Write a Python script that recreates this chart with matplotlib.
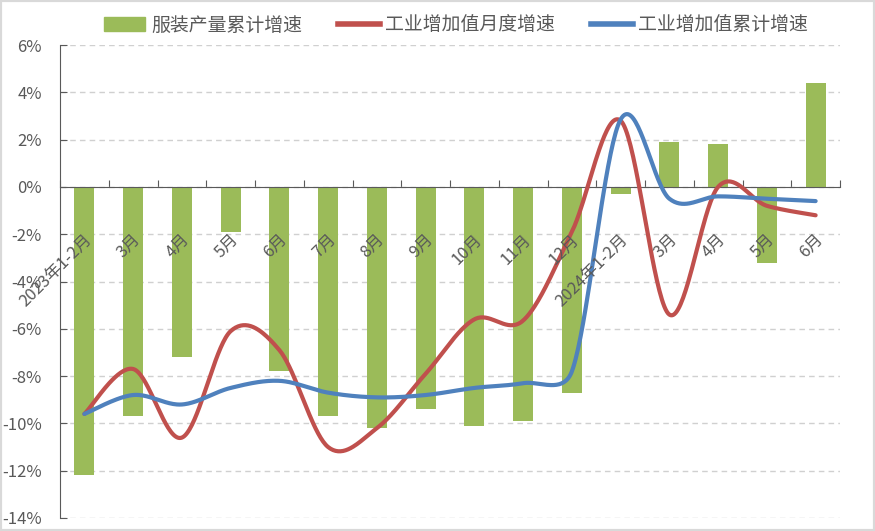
import numpy as np
import matplotlib.pyplot as plt
from matplotlib.patches import Patch, Rectangle
from matplotlib.lines import Line2D

plt.rcParams['font.family'] = ['Noto Sans CJK SC', 'DejaVu Sans']

months = ['2023年1-2月', '3月', '4月', '5月', '6月', '7月', '8月', '9月', '10月',
          '11月', '12月', '2024年1-2月', '3月', '4月', '5月', '6月']
# 服装产量累计增速 (%)
output_growth = [-12.2, -9.7, -7.2, -1.9, -7.8, -9.7, -10.2, -9.4, -10.1, -9.9,
                 -8.7, -0.3, 1.9, 1.8, -3.2, 4.4]
# 工业增加值月度增速 (%)
monthly_growth = [-9.6, -7.7, -10.6, -6.1, -6.9, -11.0, -10.2, -7.9, -5.6, -5.65,
                  -1.9, 2.8, -5.4, 0.0, -0.8, -1.2]
# 工业增加值累计增速 (%)
cum_growth = [-9.6, -8.8, -9.2, -8.5, -8.2, -8.7, -8.9, -8.8, -8.5, -8.3,
              -7.8, 2.85, -0.5, -0.4, -0.5, -0.6]

GREEN = '#9BBB59'
RED = '#C0504D'
BLUE = '#4F81BD'
GRAY = '#595959'


def smooth(xs, ys, aspect, n=40):
    # excel-like smoothed line: bezier through the points, built in screen proportions
    P = np.column_stack([xs, np.asarray(ys, float) * aspect])
    Pe = np.vstack([P[0], P, P[-1]])
    t = np.linspace(0, 1, n)[:, None]
    parts = []
    for i in range(len(P) - 1):
        p0, p1 = P[i], P[i + 1]
        seg_len = np.linalg.norm(p1 - p0)
        d1 = (Pe[i + 2] - Pe[i]) / 6
        d2 = (Pe[i + 3] - Pe[i + 1]) / 6
        # keep handles from overshooting on short segments
        for d in (d1, d2):
            L = np.linalg.norm(d)
            if L > 0.5 * seg_len:
                d *= 0.5 * seg_len / L
        c1 = p0 + d1
        c2 = p1 - d2
        seg = (1 - t) ** 3 * p0 + 3 * (1 - t) ** 2 * t * c1 + 3 * (1 - t) * t ** 2 * c2 + t ** 3 * p1
        parts.append(seg if i == 0 else seg[1:])
    c = np.vstack(parts)
    return c[:, 0], c[:, 1] / aspect


fig = plt.figure(figsize=(8.75, 5.31), dpi=100)
ax = fig.add_axes([60 / 875, 1 - 518 / 531, 780 / 875, 473 / 531])

x = np.arange(len(months))
ax.set_xlim(-0.5, len(months) - 0.5)
ax.set_ylim(-14, 6)

ax.bar(x, output_growth, width=0.41, color=GREEN, zorder=2)

# px per category vs px per percent
aspect = (473 / 20) / (780 / len(months))
sx, sy = smooth(x, monthly_growth, aspect)
ax.plot(sx, sy, color=RED, lw=3, solid_capstyle='round', zorder=3)
sx, sy = smooth(x, cum_growth, aspect)
ax.plot(sx, sy, color=BLUE, lw=3, solid_capstyle='round', zorder=3)

# grid
ax.set_axisbelow(True)
ax.yaxis.grid(True, color='#D0D0D0', linestyle=(0, (4, 3)), lw=1)

ax.spines['top'].set_visible(False)
ax.spines['right'].set_visible(False)
ax.spines['bottom'].set_position(('data', 0))
ax.spines['bottom'].set_color(GRAY)
ax.spines['left'].set_color(GRAY)

ax.set_xticks(np.arange(-0.5, len(months), 1))
ax.set_xticklabels([])
ax.tick_params(axis='x', direction='in', length=5, color=GRAY)
yt = np.arange(-14, 7, 2)
ax.set_yticks(yt)
ax.set_yticklabels([f'{v}%' for v in yt])
ax.tick_params(axis='y', direction='in', length=5, color=GRAY, labelcolor=GRAY,
               labelsize=12, pad=13)

for i, lab in enumerate(months):
    ax.text(i - 0.02, -1.85, lab, rotation=45, ha='right', va='top',
            rotation_mode='anchor', fontsize=12, color=GRAY, zorder=4)

handles = [Patch(color=GREEN), Line2D([], [], color=RED, lw=4),
           Line2D([], [], color=BLUE, lw=4)]
labels = ['服装产量累计增速', '工业增加值月度增速', '工业增加值累计增速']
fig.legend(handles, labels, loc='center', bbox_to_anchor=(456 / 875, 1 - 25 / 531),
           ncol=3, frameon=False, fontsize=13.6, labelcolor=GRAY, handlelength=2.2,
           handletextpad=0.3, columnspacing=1.9)

fig.patches.append(Rectangle((0, 0), 1, 1, transform=fig.transFigure, fill=False,
                             edgecolor='#D9D9D9', lw=3))

plt.savefig('out.png', dpi=100)
